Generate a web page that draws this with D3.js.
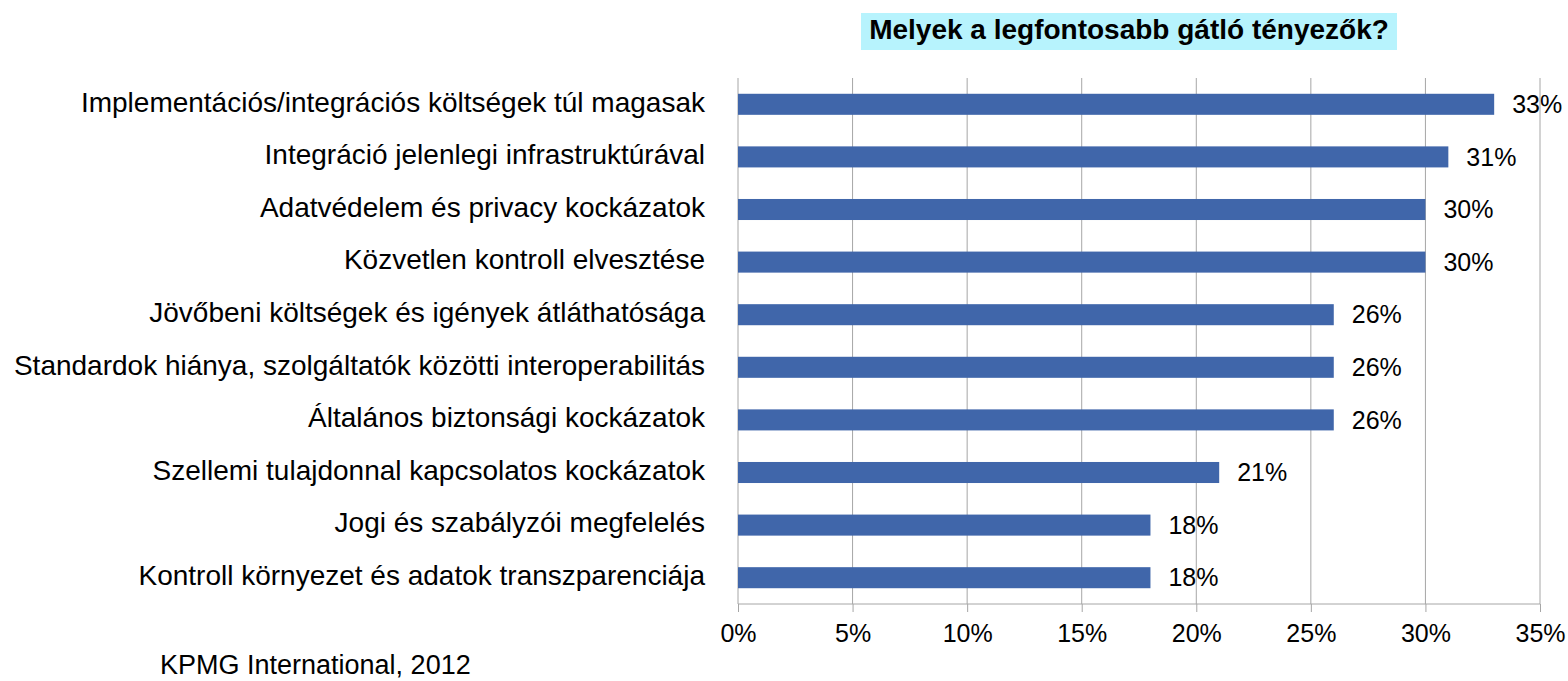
<!DOCTYPE html>
<html><head><meta charset="utf-8">
<script src="https://cdn.jsdelivr.net/npm/d3@7"></script>
<style>
html,body{margin:0;padding:0;background:#fff;}
svg{display:block;font-family:"Liberation Sans",Arial,sans-serif;}
</style></head>
<body>
<svg id="chart" width="1568" height="681"></svg>
<script>
const categories = [
  "Implementációs/integrációs költségek túl magasak",
  "Integráció jelenlegi infrastruktúrával",
  "Adatvédelem és privacy kockázatok",
  "Közvetlen kontroll elvesztése",
  "Jövőbeni költségek és igények átláthatósága",
  "Standardok hiánya, szolgáltatók közötti interoperabilitás",
  "Általános biztonsági kockázatok",
  "Szellemi tulajdonnal kapcsolatos kockázatok",
  "Jogi és szabályzói megfelelés",
  "Kontroll környezet és adatok transzparenciája"
];
const values = [33, 31, 30, 30, 26, 26, 26, 21, 18, 18];
const tickValues = [0, 5, 10, 15, 20, 25, 30, 35];
const title = "Melyek a legfontosabb gátló tényezők?";
const source = "KPMG International, 2012";

const svg = d3.select("#chart");
const pLeft = 738, pRight = 1540, pTop = 78, pBottom = 604;

const x = d3.scaleLinear().domain([0, 35]).range([pLeft, pRight]);
const y = d3.scaleBand().domain(categories).range([pTop, pBottom]).paddingInner(0.6).paddingOuter(0.3);

// gridlines
svg.append("g").selectAll("line").data(tickValues).join("line")
  .attr("x1", d => x(d)).attr("x2", d => x(d))
  .attr("y1", pTop).attr("y2", pBottom)
  .attr("stroke", "#a6a6a6").attr("stroke-width", 1);

// bottom axis
const xAxis = d3.axisBottom(x).tickValues(tickValues).tickFormat(d => d + "%").tickSize(8).tickPadding(12);
const gx = svg.append("g").attr("transform", `translate(0,${pBottom})`).call(xAxis);
gx.select(".domain").attr("stroke", "#a6a6a6").attr("d", `M${pLeft},0H${pRight}`);
gx.selectAll(".tick line").attr("stroke", "#a6a6a6");
gx.selectAll(".tick text").attr("fill", "#000").style("font-size", "25px").style("font-family", "'Liberation Sans',Arial,sans-serif");

// bars
svg.append("g").selectAll("rect").data(values).join("rect")
  .attr("x", x(0))
  .attr("y", (d, i) => y(categories[i]))
  .attr("width", d => x(d) - x(0))
  .attr("height", y.bandwidth())
  .attr("fill", "#4066aa");

// value labels
svg.append("g").selectAll("text").data(values).join("text")
  .attr("x", d => x(d) + 18)
  .attr("y", (d, i) => y(categories[i]) + y.bandwidth() / 2 + 2)
  .attr("dominant-baseline", "middle")
  .style("font-size", "25px")
  .text(d => d + "%");

// category labels
svg.append("g").selectAll("text").data(categories).join("text")
  .attr("x", 705)
  .attr("y", d => y(d) + y.bandwidth() / 2)
  .attr("text-anchor", "end")
  .attr("dominant-baseline", "middle")
  .style("font-size", "28px")
  .text(d => d);

// title
svg.append("rect").attr("x", 861).attr("y", 13).attr("width", 536).attr("height", 37).attr("fill", "#b7f3fd");
svg.append("text").attr("x", 1129).attr("y", 32).attr("text-anchor", "middle").attr("dominant-baseline", "middle")
  .style("font-size", "28px").style("font-weight", "bold").text(title);

// source
svg.append("text").attr("x", 160).attr("y", 667).attr("dominant-baseline", "middle")
  .style("font-size", "27px").text(source);
</script>
</body></html>
